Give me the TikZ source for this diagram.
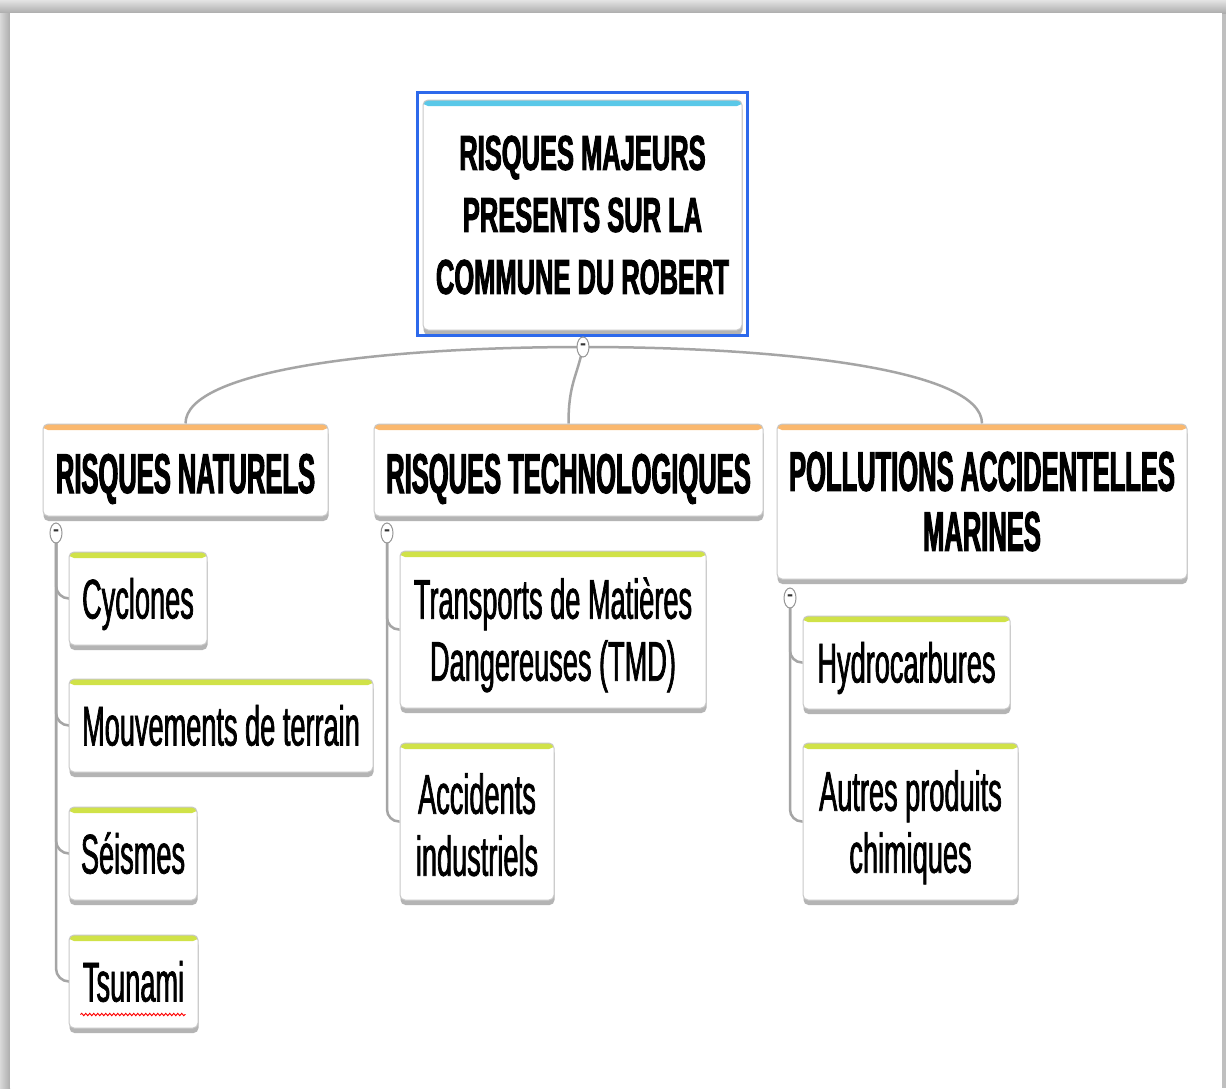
\documentclass[tikz,border=0pt]{standalone}
\usepackage{fontspec}
\setmainfont{Liberation Sans}
\newfontfamily\leaffont{Liberation Sans}[FakeStretch=0.485,FakeBold=1.2]
\newfontfamily\branchfont{Liberation Sans}[FakeStretch=0.456,FakeBold=1.8]
\newfontfamily\rootfont{Liberation Sans}[FakeStretch=0.52,FakeBold=1.8]
\usetikzlibrary{shadows,shapes.geometric,decorations.pathmorphing}
\definecolor{boxborder}{RGB}{200,200,200}
\definecolor{shadowgray}{RGB}{180,180,180}
\definecolor{leafgreen}{RGB}{208,226,72}
\definecolor{branchorange}{RGB}{250,184,110}
\definecolor{rootcyan}{RGB}{90,200,232}
\definecolor{selblue}{RGB}{45,105,235}
\definecolor{conngray}{RGB}{165,165,165}
\definecolor{togglegray}{RGB}{150,150,150}
\newcommand{\pushdown}[1][52pt]{\rule{0pt}{#1}}
\pgfdeclarelayer{bg}
\pgfsetlayers{bg,main}
\begin{document}
\begin{tikzpicture}[x=1pt,y=-1pt,
  boxbase/.style={draw=boxborder, line width=1pt, fill=white, rounded corners=5pt,
    inner sep=3pt, align=center,
    drop shadow={shadow xshift=0.5pt, shadow yshift=-5pt, fill=shadowgray, opacity=1}},
  strip/.style={path picture={\fill[#1] (path picture bounding box.north west) rectangle ([yshift=-6pt]path picture bounding box.north east);}},
  leafbox/.style={boxbase, strip=leafgreen, font=\leaffont\fontsize{56pt}{62pt}\selectfont},
  oneleaf/.style={leafbox, text height=46pt, text depth=6pt},
  branchbox/.style={boxbase, strip=branchorange, font=\branchfont\bfseries\fontsize{56pt}{60pt}\selectfont},
  onebranch/.style={branchbox, text height=46pt, text depth=0pt},
  rootbox/.style={boxbase, strip=rootcyan, font=\rootfont\bfseries\fontsize{49pt}{62pt}\selectfont},
  toggle/.style={ellipse, draw=togglegray, fill=white, line width=1pt, minimum width=12pt,
    minimum height=20pt, inner sep=0pt, font=\bfseries\fontsize{18pt}{18pt}\selectfont, text=black!80},
  conn/.style={draw=conngray, line width=2.5pt}
]
\useasboundingbox (0,0) rectangle (1226,1088);

% root
\node[rootbox, minimum width=319pt, minimum height=230pt] (root) at (582.5,215)
  {RISQUES MAJEURS\\PRESENTS SUR LA\\COMMUNE DU ROBERT};
\draw[selblue, line width=3pt] ([shift={(-5pt,7pt)}]root.north west) rectangle ([shift={(5pt,-5pt)}]root.south east);

% branches
\node[onebranch, minimum width=285pt, minimum height=92pt] (nat) at (185.5,470) {RISQUES NATURELS};
\node[onebranch, minimum width=389pt, minimum height=92pt] (tech) at (568.5,470) {RISQUES TECHNOLOGIQUES};
\node[branchbox, minimum width=410pt, minimum height=155pt] (poll) at (982,501.5) {POLLUTIONS ACCIDENTELLES\\MARINES};

% leaves
\node[oneleaf, minimum width=138pt, minimum height=93pt] (cyc) at (138,598.5) {Cyclones};
\node[oneleaf, minimum width=304pt, minimum height=93pt] (mouv) at (221,725.5) {Mouvements de terrain};
\node[oneleaf, minimum width=128pt, minimum height=93pt] (seis) at (133,853.5) {Séismes};
\node[oneleaf, minimum width=129pt, minimum height=93pt] (tsu) at (133.5,981.5) {Tsunami};
\node[leafbox, minimum width=306pt, minimum height=157pt] (tmd) at (553,629.5) {\pushdown Transports de Matières\\Dangereuses (TMD)};
\node[leafbox, minimum width=154pt, minimum height=157pt] (acc) at (477,821.5) {\pushdown[47pt]Accidents\\industriels};
\node[oneleaf, minimum width=207pt, minimum height=93pt] (hyd) at (906.5,662.5) {Hydrocarbures};
\node[leafbox, minimum width=215pt, minimum height=157pt] (aut) at (910.5,821.5) {\pushdown Autres produits\\chimiques};

% toggles
\node[toggle] (rc) at (583,347) {-};
\node[toggle] (nc) at (56,533) {-};
\node[toggle] (tc) at (387,533) {-};
\node[toggle] (pc) at (790,598) {-};

% spelling underline
\draw[red, line width=0.9pt, decorate, decoration={snake, amplitude=1.2pt, segment length=4pt}]
  ([shift={(12pt,14pt)}]tsu.south west) -- ([shift={(-13pt,14pt)}]tsu.south east);

\begin{pgfonlayer}{bg}
  \fill[gray!50] (0,0) rectangle (1226,1088);
  \shade[top color=gray!22, bottom color=gray!65] (0,0) rectangle (1226,13);
  \shade[left color=gray!30, right color=gray!65] (0,13) rectangle (10,1088);
  \fill[white] (10,13) rectangle (1222,1088);
  % connectors
  \draw[conn] (rc.center) .. controls ([xshift=-200pt]rc.center) and ([yshift=54pt]nat.north) .. (nat.north);
  \draw[conn] (rc.center) .. controls ([xshift=-6pt,yshift=-30pt]rc.center) and ([yshift=40pt]tech.north) .. (tech.north);
  \draw[conn] (rc.center) .. controls ([xshift=200pt]rc.center) and ([yshift=54pt]poll.north) .. (poll.north);
  \draw[conn, rounded corners=13pt] (nc.center) |- (cyc.west);
  \draw[conn, rounded corners=13pt] (nc.center) |- (mouv.west);
  \draw[conn, rounded corners=13pt] (nc.center) |- (seis.west);
  \draw[conn, rounded corners=13pt] (nc.center) |- (tsu.west);
  \draw[conn, rounded corners=12pt] (tc.center) |- (tmd.west);
  \draw[conn, rounded corners=12pt] (tc.center) |- (acc.west);
  \draw[conn, rounded corners=12pt] (pc.center) |- (hyd.west);
  \draw[conn, rounded corners=12pt] (pc.center) |- (aut.west);
\end{pgfonlayer}
\end{tikzpicture}
\end{document}
